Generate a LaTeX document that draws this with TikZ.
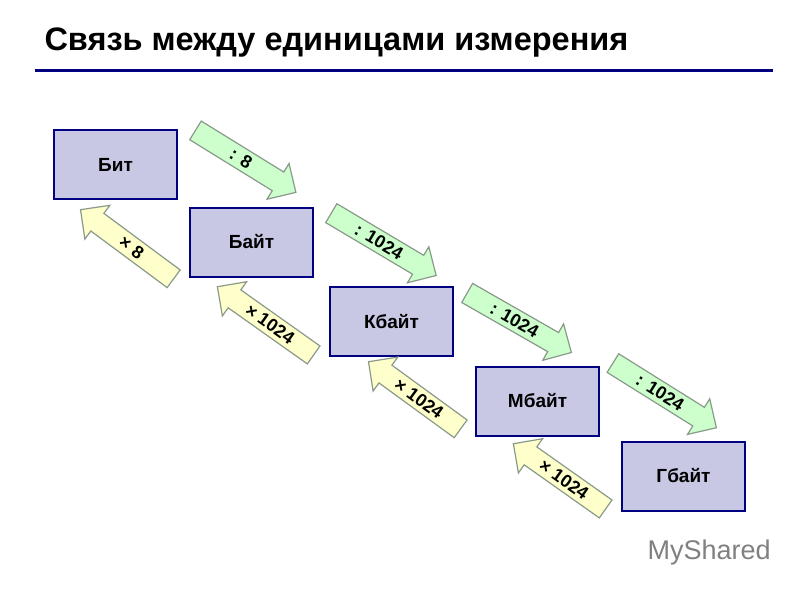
\documentclass[tikz,border=0pt]{standalone}
\usepackage{fontspec}
\setmainfont{Liberation Sans}
\usetikzlibrary{shapes.arrows}
\definecolor{boxfill}{HTML}{C8C8E4}
\definecolor{navy}{HTML}{000080}
\definecolor{gfill}{HTML}{CCFFCC}
\definecolor{yfill}{HTML}{FFFFCC}
\definecolor{agray}{HTML}{8A9A8A}
\tikzset{
  unit/.style={draw=navy,line width=2pt,fill=boxfill,minimum width=123pt,minimum height=69pt,font=\fontsize{19}{21}\bfseries\selectfont},
  arr/.style={single arrow,draw=agray,line width=1.2pt,inner ysep=4pt,inner xsep=2pt,single arrow head extend=10pt,font=\fontsize{18}{20}\bfseries\selectfont,sloped,midway},
  garr/.style={arr,fill=gfill},
  yarr/.style={arr,fill=yfill,shape border rotate=180},
}
\begin{document}
\begin{tikzpicture}[x=1pt,y=-1pt]
\useasboundingbox (0,0) rectangle (800,600);
\node[anchor=west,font=\fontsize{32.5}{35}\bfseries\selectfont] (title) at (41,43) {Связь между единицами измерения};
\draw[navy,line width=3pt] (35,70) coordinate (l1) -- (773,70) coordinate (l2);
\node[unit] (bit) at (115.5,164.5) {Бит};
\node[unit] (byte) at (251.5,242) {Байт};
\node[unit] (kb) at (391.5,321.5) {Кбайт};
\node[unit] (mb) at (537.5,401) {Мбайт};
\node[unit] (gb) at (683.5,476) {Гбайт};
\path (190,127) -- (292,190) node[garr,minimum height=118pt] (g1) {: 8};
\path (326,210) -- (432,273) node[garr,minimum height=122pt] (g2) {: 1024};
\path (462,290) -- (567,350) node[garr,minimum height=120pt] (g3) {: 1024};
\path (608,360) -- (712,425) node[garr,minimum height=122pt] (g4) {: 1024};
\path (85,213) -- (178,282) node[yarr,minimum height=116pt] (y1) {× 8};
\path (222,290) -- (318,358) node[yarr,minimum height=118pt] (y2) {× 1024};
\path (373,365) -- (465,432) node[yarr,minimum height=114pt] (y3) {× 1024};
\path (518,447) -- (610,512) node[yarr,minimum height=113pt] (y4) {× 1024};
\node[anchor=west,text=gray,font=\fontsize{27}{29}\selectfont] (ms) at (644,553) {MyShared};
\end{tikzpicture}
\end{document}
